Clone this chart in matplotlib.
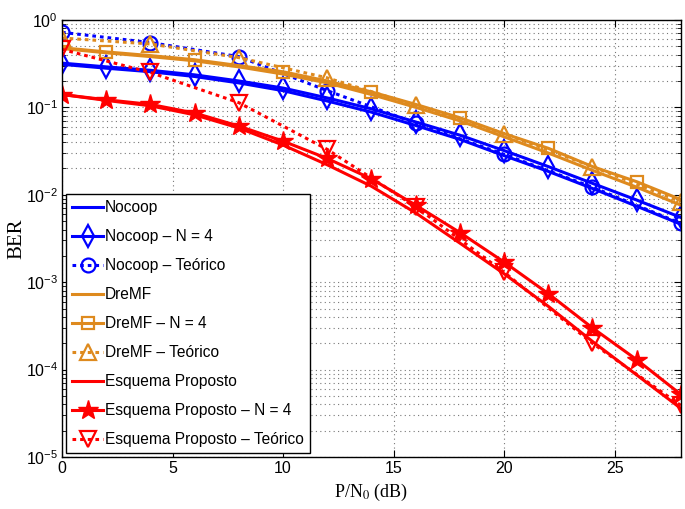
import numpy as np
import matplotlib
matplotlib.use('Agg')
import matplotlib.pyplot as plt

# 데이터
snr = [0, 2, 4, 6, 8, 10, 12, 14, 16, 18, 20, 22, 24, 26, 28]
snr_teo = [0, 4, 8, 12, 16, 20, 24, 28]

nocoop = [0.31, 0.28, 0.255, 0.225, 0.19, 0.155, 0.118, 0.088, 0.062, 0.043, 0.028, 0.0185, 0.0118, 0.0074, 0.0046]
nocoop_n4 = [0.32, 0.29, 0.265, 0.235, 0.20, 0.166, 0.128, 0.096, 0.068, 0.048, 0.032, 0.021, 0.0135, 0.0087, 0.0055]
nocoop_teo = [0.72, 0.55, 0.38, 0.155, 0.066, 0.029, 0.0122, 0.0047]

dremf = [0.47, 0.42, 0.38, 0.34, 0.29, 0.24, 0.19, 0.14, 0.10, 0.07, 0.046, 0.03, 0.019, 0.0122, 0.0076]
dremf_n4 = [0.48, 0.43, 0.39, 0.35, 0.30, 0.255, 0.20, 0.15, 0.108, 0.076, 0.05, 0.034, 0.021, 0.0141, 0.0088]
dremf_teo = [0.62, 0.53, 0.37, 0.217, 0.105, 0.05, 0.021, 0.0083]

esq = [0.14, 0.12, 0.104, 0.082, 0.058, 0.037, 0.022, 0.0125, 0.0062, 0.0028, 0.00125, 5.3e-4, 2.1e-4, 8.7e-5, 3.6e-5]
esq_n4 = [0.14, 0.122, 0.108, 0.086, 0.061, 0.041, 0.026, 0.0152, 0.0076, 0.0037, 0.0017, 7.4e-4, 3.0e-4, 1.3e-4, 5.2e-5]
esq_teo = [0.46, 0.25, 0.113, 0.033, 0.0073, 0.0013, 2.0e-4, 3.9e-5]

labels = ['Nocoop', 'Nocoop \u2013 N = 4', 'Nocoop \u2013 Te\u00f3rico',
          'DreMF', 'DreMF \u2013 N = 4', 'DreMF \u2013 Te\u00f3rico',
          'Esquema Proposto', 'Esquema Proposto \u2013 N = 4', 'Esquema Proposto \u2013 Te\u00f3rico']

azul = '#0000FF'
laranja = '#DE8A1E'
vermelho = '#FF0000'

plt.rcParams['font.family'] = ['Liberation Sans', 'DejaVu Sans']
plt.rcParams['mathtext.fontset'] = 'custom'
plt.rcParams['mathtext.rm'] = 'Liberation Sans'
plt.rcParams['mathtext.it'] = 'Liberation Sans:italic'

fig = plt.figure(figsize=(6.85, 5.09), dpi=100)
ax = fig.add_axes([0.0905, 0.102, 0.9035, 0.859])

lw = 2.2
dot = (0, (1.2, 1.3))
mk = dict(markerfacecolor='none', markeredgewidth=1.6)

ax.semilogy(snr, nocoop, '-', color=azul, lw=lw, label=labels[0])
ax.semilogy(snr, nocoop_n4, '-', color=azul, lw=lw, marker='d', ms=11, label=labels[1], **mk)
ax.semilogy(snr_teo, nocoop_teo, linestyle=dot, color=azul, lw=lw, marker='o', ms=10, label=labels[2], **mk)

ax.semilogy(snr, dremf, '-', color=laranja, lw=lw, label=labels[3])
ax.semilogy(snr, dremf_n4, '-', color=laranja, lw=lw, marker='s', ms=9, markevery=slice(1, None, 2), label=labels[4], **mk)
ax.semilogy(snr_teo, dremf_teo, linestyle=dot, color=laranja, lw=lw, marker='^', ms=11, label=labels[5], **mk)

ax.semilogy(snr, esq, '-', color=vermelho, lw=lw, label=labels[6])
ax.semilogy(snr, esq_n4, '-', color=vermelho, lw=lw, marker='*', ms=15, markerfacecolor=vermelho,
            markeredgewidth=1.0, label=labels[7])
ax.semilogy(snr_teo, esq_teo, linestyle=dot, color=vermelho, lw=lw, marker='v', ms=11, label=labels[8], **mk)

ax.set_xlim(0, 28)
ax.set_ylim(1e-5, 1)
ax.set_xticks([0, 5, 10, 15, 20, 25])
ax.tick_params(which='both', direction='in', top=True, right=True, labelsize=11.5, pad=3)
ax.tick_params(which='major', length=5)
ax.tick_params(which='minor', length=3)
ax.grid(True, which='major', linestyle=(0, (1, 3)), color='#777777', lw=0.8)
ax.grid(True, which='minor', axis='y', linestyle=(0, (1, 3)), color='#777777', lw=0.8)
for s in ax.spines.values():
    s.set_linewidth(1.0)

ax.set_xlabel(r'P/N$_0$ (dB)', family='Liberation Serif', fontsize=13, math_fontfamily='stix', labelpad=4)
ax.set_ylabel('BER', family='Liberation Serif', fontsize=15)
ax.yaxis.set_label_coords(-0.058, 0.5)

leg = ax.legend(loc='lower left', fontsize=11.2, handlelength=2.0, handletextpad=0.1,
                labelspacing=0.9, borderaxespad=0.25, borderpad=0.4, fancybox=False,
                framealpha=1, edgecolor='black')
leg.get_frame().set_linewidth(1.0)

fig.savefig('out.png', dpi=100)
